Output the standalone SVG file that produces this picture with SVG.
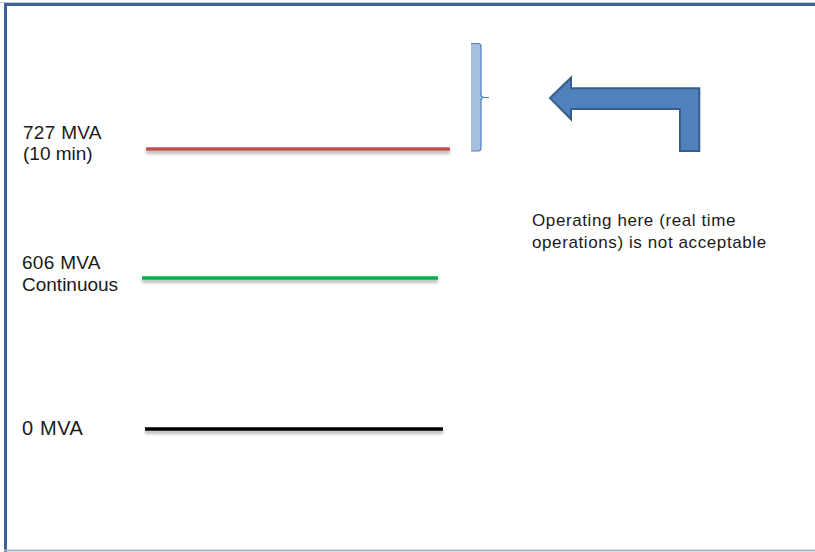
<svg xmlns="http://www.w3.org/2000/svg" width="815" height="552" viewBox="0 0 815 552">
<defs>
<filter id="sh" filterUnits="userSpaceOnUse" x="0" y="0" width="815" height="552">
<feGaussianBlur in="SourceAlpha" stdDeviation="1.5"/>
<feOffset dy="3" result="b"/>
<feComponentTransfer in="b" result="c"><feFuncA type="linear" slope="0.3"/></feComponentTransfer>
<feMerge><feMergeNode in="c"/><feMergeNode in="SourceGraphic"/></feMerge>
</filter>
</defs>
<style>
.lbl{font-family:"Liberation Sans",Arial,sans-serif;fill:#1a1a1a}
.lvl{stroke-width:3.5;fill:none;filter:url(#sh)}
</style>
<rect x="0" y="0" width="815" height="552" fill="#ffffff"/>
<g id="frame">
<line x1="0" y1="2.5" x2="815" y2="2.5" stroke="#b7c6d8" stroke-width="1"/>
<line x1="4" y1="4.5" x2="815" y2="4.5" stroke="#3d6191" stroke-width="3"/>
<line x1="5.5" y1="3" x2="5.5" y2="552" stroke="#3d6191" stroke-width="3"/>
<line x1="4" y1="550.5" x2="815" y2="550.5" stroke="#a9b6c4" stroke-width="2"/>
</g>
<g id="level-727">
<line class="lvl" x1="146" y1="149" x2="450" y2="149" stroke="#c0504d"/>
<text class="lbl" x="23" y="139" font-size="19" letter-spacing="0.3">727 MVA</text>
<text class="lbl" x="23" y="160" font-size="19">(10 min)</text>
</g>
<g id="level-606">
<line class="lvl" x1="142" y1="278" x2="438" y2="278" stroke="#00b050"/>
<text class="lbl" x="22" y="269" font-size="19" letter-spacing="0.3">606 MVA</text>
<text class="lbl" x="22" y="291" font-size="19">Continuous</text>
</g>
<g id="level-0">
<line class="lvl" x1="145" y1="429" x2="443" y2="429" stroke="#000000"/>
<text class="lbl" x="22" y="435" font-size="20" letter-spacing="0.6">0 MVA</text>
</g>
<g id="bracket">
<path d="M471 43.5 L478 43.5 Q481 43.5 481 46.5 L481 148 Q481 151 478 151 L471 151 Z" fill="#a7bfdf"/>
<path d="M471 43.5 L478 43.5 Q481 43.5 481 46.5 L481 94.5 Q481 97.5 484 97.5 L489 97.5 M484 97.5 Q481 97.5 481 100.5 L481 148 Q481 151 478 151 L471 151" fill="none" stroke="#4f81bd" stroke-width="1.2"/>
</g>
<g id="note">
<text class="lbl" x="532" y="226" font-size="17" letter-spacing="0.6">Operating here (real time</text>
<text class="lbl" x="532" y="248" font-size="17" letter-spacing="0.6">operations) is not acceptable</text>
</g>
<g id="connectors">
<path d="M550 98 L571 77.7 L571 88.3 L699.3 88.3 L699.3 151 L680 151 L680 109 L571 109 L571 119.3 Z" fill="#4f81bd" stroke="#385d8a" stroke-width="2" stroke-linejoin="miter"/>
</g>
</svg>
